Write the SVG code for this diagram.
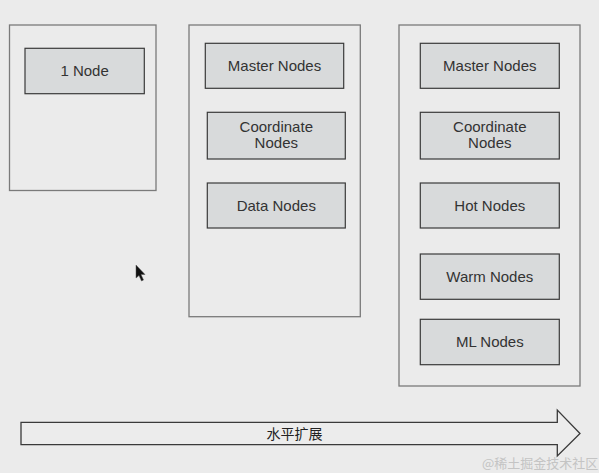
<svg xmlns="http://www.w3.org/2000/svg" width="599" height="473" viewBox="0 0 599 473">
<style>
.bg{fill:#ebebeb}
.cont{fill:#ebebeb;stroke:#7a7a7a;stroke-width:1.3}
.node{fill:#d8dadb;stroke:#3a3a3a;stroke-width:1.2}
.t{font-family:"Liberation Sans",Arial,sans-serif;font-size:15px;fill:#333;text-anchor:middle}
.cn{font-family:"Liberation Sans","Noto Sans CJK SC",sans-serif;font-size:14px;fill:#222;text-anchor:middle}
.wm{font-family:"Noto Sans CJK SC",sans-serif;font-size:13px;fill:#c4c4c4}
</style>
<rect class="bg" x="0" y="0" width="599" height="473"/>

<g id="single">
  <rect class="cont" x="9.5" y="25" width="146.5" height="165.5"/>
  <g id="n-1node">
    <rect class="node" x="25" y="48.3" width="119.3" height="45.4"/>
    <text class="t" x="84.6" y="75.5">1 Node</text>
  </g>
</g>

<g id="roles">
  <rect class="cont" x="189" y="25" width="171.3" height="291.7"/>
  <g id="n-master2">
    <rect class="node" x="205.3" y="43.3" width="138.4" height="45"/>
    <text class="t" x="274.5" y="71">Master Nodes</text>
  </g>
  <g id="n-coord2">
    <rect class="node" x="207.3" y="112.3" width="138" height="46.7"/>
    <text class="t" x="276.3" y="132">Coordinate</text>
    <text class="t" x="276.3" y="148">Nodes</text>
  </g>
  <g id="n-data2">
    <rect class="node" x="207.3" y="183" width="138" height="45"/>
    <text class="t" x="276.3" y="210.5">Data Nodes</text>
  </g>
</g>

<g id="tiers">
  <rect class="cont" x="399" y="25" width="181" height="361"/>
  <g id="n-master3">
    <rect class="node" x="420.3" y="43.3" width="139" height="45"/>
    <text class="t" x="489.8" y="71">Master Nodes</text>
  </g>
  <g id="n-coord3">
    <rect class="node" x="420.3" y="112.3" width="139" height="46.7"/>
    <text class="t" x="489.8" y="132">Coordinate</text>
    <text class="t" x="489.8" y="148">Nodes</text>
  </g>
  <g id="n-hot">
    <rect class="node" x="420.3" y="183" width="139" height="45"/>
    <text class="t" x="489.8" y="210.5">Hot Nodes</text>
  </g>
  <g id="n-warm">
    <rect class="node" x="420.3" y="254" width="139" height="45.3"/>
    <text class="t" x="489.8" y="281.5">Warm Nodes</text>
  </g>
  <g id="n-ml">
    <rect class="node" x="420.3" y="319.3" width="139" height="45.4"/>
    <text class="t" x="489.8" y="347">ML Nodes</text>
  </g>
</g>

<g id="connectors">
  <polygon points="21,422.3 557.3,422.3 557.3,410 580,433.5 557.3,456 557.3,444.7 21,444.7" fill="#ececec" stroke="#3a3a3a" stroke-width="1.3"/>
  <text class="cn" x="294.5" y="439">水平扩展</text>
</g>

<g id="cursor">
  <polygon points="136,265 136,278 139,275.5 141.5,281 143.5,280 141,274.5 145,274.5" fill="#111" stroke="#555" stroke-width="0.5"/>
</g>

<text class="wm" x="482" y="468">@稀土掘金技术社区</text>
</svg>
